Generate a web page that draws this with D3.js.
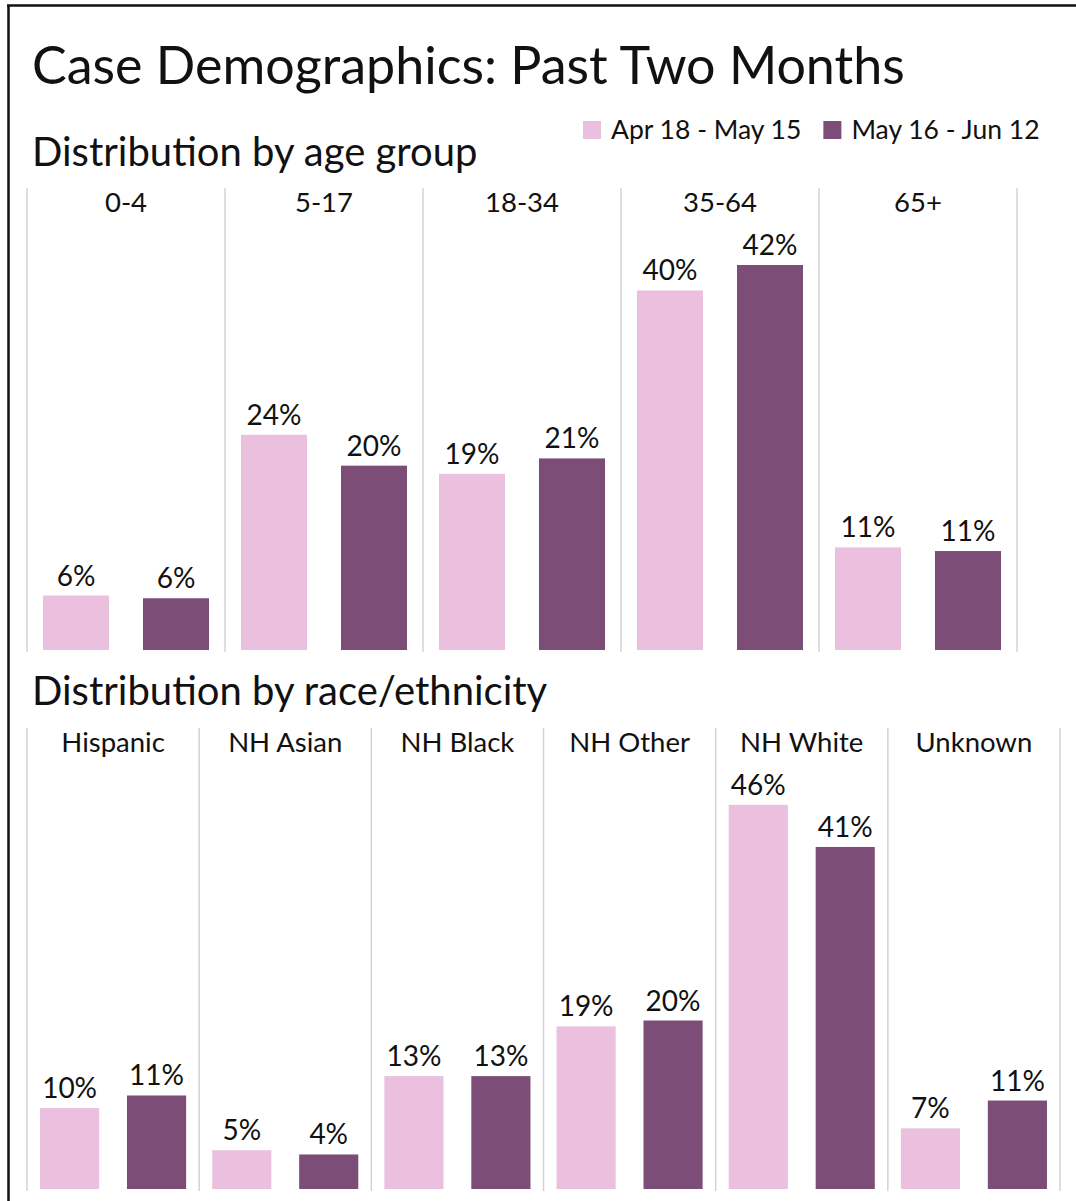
<!DOCTYPE html>
<html>
<head>
<meta charset="utf-8">
<script src="https://cdn.jsdelivr.net/npm/d3@7"></script>
<style>
  body { margin: 0; background: #fff; }
  svg text { font-family: Lato, "Open Sans", sans-serif; fill: #111; }
</style>
</head>
<body>
<div id="chart"></div>
<script>
const seriesNames = ["Apr 18 - May 15", "May 16 - Jun 12"];
const seriesColors = ["#eac0de", "#7b4d77"];

const ageGroups = ["0-4", "5-17", "18-34", "35-64", "65+"];
const agePrev = [6.0, 23.7, 19.4, 39.6, 11.3];
const ageCurr = [5.7, 20.3, 21.1, 42.4, 10.9];

const raceGroups = ["Hispanic", "NH Asian", "NH Black", "NH Other", "NH White", "Unknown"];
const racePrev = [9.6, 4.6, 13.4, 19.3, 45.6, 7.2];
const raceCurr = [11.1, 4.1, 13.4, 20.0, 40.6, 10.5];

const width = 1076;
const height = 1201;

const svg = d3.select("#chart")
    .append("svg")
    .attr("width", width)
    .attr("height", height);

// frame (top + left edges only)
svg.append("line")
    .attr("x1", 7).attr("x2", width)
    .attr("y1", 5.5).attr("y2", 5.5)
    .attr("stroke", "#111").attr("stroke-width", 2.5);
svg.append("line")
    .attr("x1", 8.5).attr("x2", 8.5)
    .attr("y1", 5).attr("y2", height)
    .attr("stroke", "#111").attr("stroke-width", 2.5);

svg.append("text")
    .attr("x", 32)
    .attr("y", 84)
    .style("font-size", "52px")
    .text("Case Demographics: Past Two Months");

// legend
const legend = svg.append("g")
    .attr("transform", "translate(583, 121)");

let legendX = 0;
seriesNames.forEach((name, i) => {
    const item = legend.append("g")
        .attr("transform", `translate(${legendX}, 0)`);
    item.append("rect")
        .attr("width", 18)
        .attr("height", 18)
        .attr("fill", seriesColors[i]);
    const label = item.append("text")
        .attr("x", 28)
        .attr("y", 18)
        .style("font-size", "26.5px")
        .text(name);
    legendX += 28 + label.node().getComputedTextLength() + 22;
});

function drawPanel(opts) {
    const g = svg.append("g");

    g.append("text")
        .attr("x", 32)
        .attr("y", opts.titleY)
        .style("font-size", "40px")
        .text(opts.title);

    const x = d3.scaleBand()
        .domain(opts.groups)
        .range([opts.x0, opts.x1]);

    const xInner = d3.scaleBand()
        .domain(seriesNames)
        .range([0, x.bandwidth()])
        .paddingInner(opts.innerPad)
        .paddingOuter(opts.outerPad);

    const values = [opts.prev, opts.curr];
    const y = d3.scaleLinear()
        .domain([0, d3.max(values.flat()) * 1.2])
        .range([opts.bottom, opts.top]);

    // separators at band edges
    const edges = opts.groups.map(d => x(d)).concat([opts.x1]);
    g.selectAll(".sep")
        .data(edges)
        .enter()
        .append("line")
        .attr("x1", d => d).attr("x2", d => d)
        .attr("y1", opts.top)
        .attr("y2", opts.bottom + 2)
        .attr("stroke", "#d3d3d3")
        .attr("stroke-width", 1.5);

    g.selectAll(".cat")
        .data(opts.groups)
        .enter()
        .append("text")
        .attr("x", d => x(d) + x.bandwidth() / 2)
        .attr("y", opts.top + 24)
        .attr("text-anchor", "middle")
        .style("font-size", "27.5px")
        .text(d => d);

    const bars = [];
    opts.groups.forEach((grp, i) => {
        seriesNames.forEach((s, j) => {
            bars.push({ grp: grp, series: s, idx: j, value: values[j][i] });
        });
    });

    g.selectAll(".bar")
        .data(bars)
        .enter()
        .append("rect")
        .attr("x", d => x(d.grp) + xInner(d.series))
        .attr("y", d => y(d.value))
        .attr("width", xInner.bandwidth())
        .attr("height", d => y(0) - y(d.value))
        .attr("fill", d => seriesColors[d.idx]);

    g.selectAll(".val")
        .data(bars)
        .enter()
        .append("text")
        .attr("x", d => x(d.grp) + xInner(d.series) + xInner.bandwidth() / 2)
        .attr("y", d => y(d.value) - 10)
        .attr("text-anchor", "middle")
        .style("font-size", "28px")
        .text(d => Math.round(d.value) + "%");
}

drawPanel({
    title: "Distribution by age group",
    titleY: 166,
    groups: ageGroups,
    prev: agePrev,
    curr: ageCurr,
    x0: 27, x1: 1017,
    top: 188, bottom: 650,
    innerPad: 0.34, outerPad: 0.16
});

drawPanel({
    title: "Distribution by race/ethnicity",
    titleY: 705,
    groups: raceGroups,
    prev: racePrev,
    curr: raceCurr,
    x0: 27, x1: 1060,
    top: 728, bottom: 1189,
    innerPad: 0.32, outerPad: 0.15
});
</script>
</body>
</html>
